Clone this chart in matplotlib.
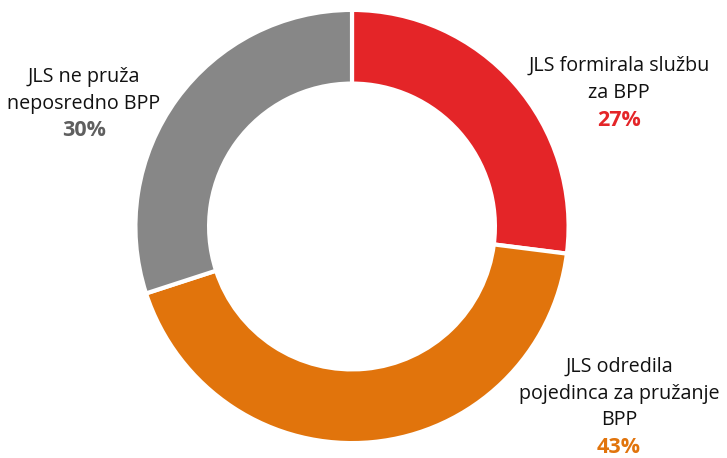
import matplotlib
matplotlib.use("Agg")
from matplotlib import pyplot as plt

# data
labels = ["JLS formirala službu\nza BPP",
          "JLS odredila\npojedinca za pružanje\nBPP",
          "JLS ne pruža\nneposredno BPP"]
values = [27, 43, 30]
colors = ["#E42528", "#E1740C", "#878787"]
pct_colors = ["#E42528", "#E1740C", "#5F5F5F"]

W, H = 727, 458
plt.rcParams['font.family'] = ['Open Sans', 'DejaVu Sans']

fig = plt.figure(figsize=(W / 100, H / 100), dpi=100)

# donut: centre (352, 226.5) px from top, outer radius 214.5 px
cx, cy, r_px = 352, 226.5, 214.5
ax = fig.add_axes([(cx - r_px) / W, (H - cy - r_px) / H, 2 * r_px / W, 2 * r_px / H])

lw = 3.0
half = lw / 72 * 100 / 2 / r_px
outer = 1 + half
inner = 145 / r_px - half
ax.pie(values, colors=colors, startangle=90, counterclock=False,
       radius=outer,
       wedgeprops=dict(width=outer - inner, edgecolor="white", linewidth=lw))
ax.set_xlim(-1, 1)
ax.set_ylim(-1, 1)
ax.set_aspect("auto")
ax.axis("off")

# label positions in pixels (centre x, y of first line) and line step
label_pos = [(619, 66), (619, 367), (84, 77)]
step = 26.5
fs = 14.2

for (x, y), lab, val, pc in zip(label_pos, labels, values, pct_colors):
    lines = lab.split("\n")
    for i, line in enumerate(lines):
        fig.text(x / W, 1 - (y + i * step) / H, line, ha="center", va="center",
                 fontsize=fs, color="#111111")
    fig.text(x / W, 1 - (y + len(lines) * step + 1) / H, f"{val}%", ha="center",
             va="center", fontsize=15.5, color=pc, fontweight="bold")

fig.savefig("out.png", dpi=100)
